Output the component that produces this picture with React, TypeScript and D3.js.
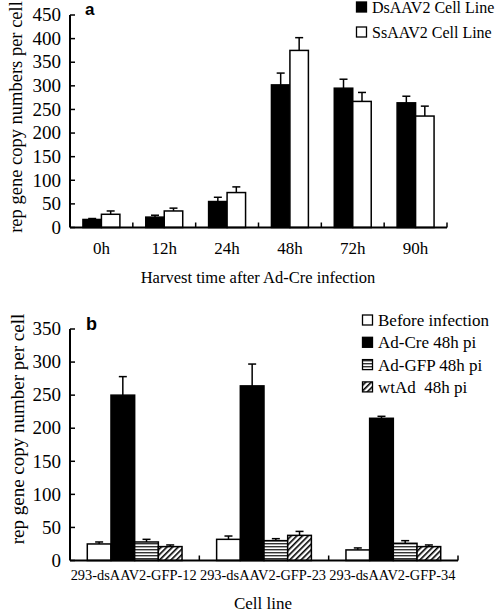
import React from "react";
import * as d3 from "d3";

// ---------- Panel a data ----------
const timeCategories = ["0h", "12h", "24h", "48h", "72h", "90h"];
const seriesA = ["DsAAV2 Cell Line", "SsAAV2 Cell Line"];
const dsValues = [17, 22, 55, 302, 295, 264];
const dsErrors = [2, 4, 9, 25, 19, 14];
const ssValues = [28, 35, 74, 375, 267, 236];
const ssErrors = [7, 6, 12, 27, 19, 21];
const yTicksA = [0, 50, 100, 150, 200, 250, 300, 350, 400, 450];

// ---------- Panel b data ----------
const cellLines = ["293-dsAAV2-GFP-12", "293-dsAAV2-GFP-23", "293-dsAAV2-GFP-34"];
const seriesB = ["Before infection", "Ad-Cre 48h pi", "Ad-GFP 48h pi", "wtAd  48h pi"];
const beforeValues = [25, 32, 16];
const beforeErrors = [3, 5, 3];
const adCreValues = [250, 264, 215];
const adCreErrors = [28, 33, 3];
const adGfpValues = [28, 30, 26];
const adGfpErrors = [4, 3, 4];
const wtAdValues = [21, 38, 21];
const wtAdErrors = [2.5, 6, 2.5];
const yTicksB = [0, 50, 100, 150, 200, 250, 300, 350];

const SERIF = "Liberation Serif, DejaVu Serif, serif";
const SANS = "Liberation Sans, DejaVu Sans, sans-serif";

export default function App() {
  const xA = d3.scaleBand<string>().domain(timeCategories).range([70, 447]).padding(0);
  const x1A = d3.scaleBand<string>().domain(seriesA).range([0, xA.bandwidth()]).paddingInner(0).paddingOuter(0.7);
  const yA = d3.scaleLinear().domain([0, 450]).range([227.5, 15]);

  const xB = d3.scaleBand<string>().domain(cellLines).range([70, 458]).padding(0);
  const x1B = d3.scaleBand<string>().domain(seriesB).range([0, xB.bandwidth()]).paddingInner(0).paddingOuter(0.73);
  const yB = d3.scaleLinear().domain([0, 350]).range([560.5, 329]);

  const aData = [
    { name: seriesA[0], values: dsValues, errors: dsErrors, fill: "#000" },
    { name: seriesA[1], values: ssValues, errors: ssErrors, fill: "#fff" },
  ];
  const bData = [
    { name: seriesB[0], values: beforeValues, errors: beforeErrors, fill: "#fff" },
    { name: seriesB[1], values: adCreValues, errors: adCreErrors, fill: "#000" },
    { name: seriesB[2], values: adGfpValues, errors: adGfpErrors, fill: "url(#hstripe)" },
    { name: seriesB[3], values: wtAdValues, errors: wtAdErrors, fill: "url(#diag)" },
  ];

  const capW = 8;
  const serif = (size: number): React.CSSProperties => ({ fontFamily: SERIF, fontSize: size + "px" });

  const renderBars = (
    data: { name: string; values: number[]; errors: number[]; fill: string }[],
    cats: string[],
    x: d3.ScaleBand<string>,
    x1: d3.ScaleBand<string>,
    y: d3.ScaleLinear<number, number>
  ) =>
    data.map((s) =>
      cats.map((c, i) => {
        const bx = (x(c) as number) + (x1(s.name) as number);
        const bw = x1.bandwidth();
        const top = y(s.values[i]);
        const etop = y(s.values[i] + s.errors[i]);
        const cx = bx + bw / 2;
        return (
          <g key={s.name + c}>
            <line x1={cx} x2={cx} y1={top} y2={etop} stroke="#000" strokeWidth={1.5} />
            <line x1={cx - capW / 2} x2={cx + capW / 2} y1={etop} y2={etop} stroke="#000" strokeWidth={1.5} />
            <rect x={bx} y={top} width={bw} height={y(0) - top} fill={s.fill} stroke="#000" strokeWidth={1.5} />
          </g>
        );
      })
    );

  const renderAxes = (
    cats: string[],
    x: d3.ScaleBand<string>,
    y: d3.ScaleLinear<number, number>,
    ticks: number[],
    fontSize: number
  ) => {
    const [x0, x1] = x.range();
    const y0 = y(0);
    const yTop = y(ticks[ticks.length - 1]);
    return (
      <g>
        <line x1={x0} x2={x0} y1={yTop} y2={y0} stroke="#000" strokeWidth={2} />
        <line x1={x0} x2={x1} y1={y0} y2={y0} stroke="#000" strokeWidth={2} />
        {ticks.map((t) => (
          <g key={t}>
            <line x1={x0} x2={x0 + 5} y1={y(t)} y2={y(t)} stroke="#000" strokeWidth={1.5} />
            <text x={x0 - 9} y={y(t) + fontSize * 0.33} textAnchor="end" style={serif(fontSize)}>
              {t}
            </text>
          </g>
        ))}
        {cats.map((c) => (
          <line key={c} x1={(x(c) as number) + x.bandwidth()} x2={(x(c) as number) + x.bandwidth()} y1={y0} y2={y0 - 5} stroke="#000" strokeWidth={1.5} />
        ))}
      </g>
    );
  };

  return (
    <svg width={496} height={613} style={{ position: "absolute", left: 0, top: 0, background: "#fff" }}>
      <defs>
        <pattern id="hstripe" patternUnits="userSpaceOnUse" width={6} height={3}>
          <rect width={6} height={3} fill="#fff" />
          <rect y={0} width={6} height={1.4} fill="#333" />
        </pattern>
        <pattern id="diag" patternUnits="userSpaceOnUse" width={4} height={4} patternTransform="rotate(45)">
          <rect width={4} height={4} fill="#fff" />
          <rect x={0} y={0} width={1.6} height={4} fill="#000" />
        </pattern>
      </defs>

      {/* ---------- Panel a ---------- */}
      {renderBars(aData, timeCategories, xA, x1A, yA)}
      {renderAxes(timeCategories, xA, yA, yTicksA, 19)}
      {timeCategories.map((c) => (
        <text key={c} x={(xA(c) as number) + xA.bandwidth() / 2} y={254} textAnchor="middle" style={serif(17)}>
          {c}
        </text>
      ))}
      <text x={258} y={283} textAnchor="middle" style={serif(16.5)}>
        Harvest time after Ad-Cre infection
      </text>
      <text transform="translate(21.5,117) rotate(-90)" textAnchor="middle" style={serif(18.5)}>
        rep gene copy numbers per cell
      </text>
      <text x={85} y={15} style={{ fontFamily: SANS, fontWeight: "bold", fontSize: "17px" }}>
        a
      </text>
      {aData.map((s, i) => (
        <g key={s.name}>
          <rect x={356.5} y={2 + i * 25} width={10} height={10} fill={s.fill} stroke="#000" strokeWidth={1.3} />
          <text x={372} y={13 + i * 25} style={serif(16)}>
            {s.name}
          </text>
        </g>
      ))}

      {/* ---------- Panel b ---------- */}
      {renderBars(bData, cellLines, xB, x1B, yB)}
      {renderAxes(cellLines, xB, yB, yTicksB, 19)}
      {cellLines.map((c) => (
        <text key={c} x={(xB(c) as number) + xB.bandwidth() / 2 - 1} y={580} textAnchor="middle" style={serif(14.4)}>
          {c}
        </text>
      ))}
      <text x={263} y={609} textAnchor="middle" style={serif(17)}>
        Cell line
      </text>
      <text transform="translate(24,429) rotate(-90)" textAnchor="middle" style={serif(19)}>
        rep gene copy number per cell
      </text>
      <text x={86} y={330} style={{ fontFamily: SANS, fontWeight: "bold", fontSize: "18px" }}>
        b
      </text>
      {bData.map((s, i) => (
        <g key={s.name}>
          <rect x={362.5} y={315 + i * 22.3} width={10} height={10} fill={s.fill} stroke="#000" strokeWidth={1.3} />
          <text x={378} y={326 + i * 22.3} style={{ ...serif(17), whiteSpace: "pre" }}>
            {s.name}
          </text>
        </g>
      ))}
    </svg>
  );
}
